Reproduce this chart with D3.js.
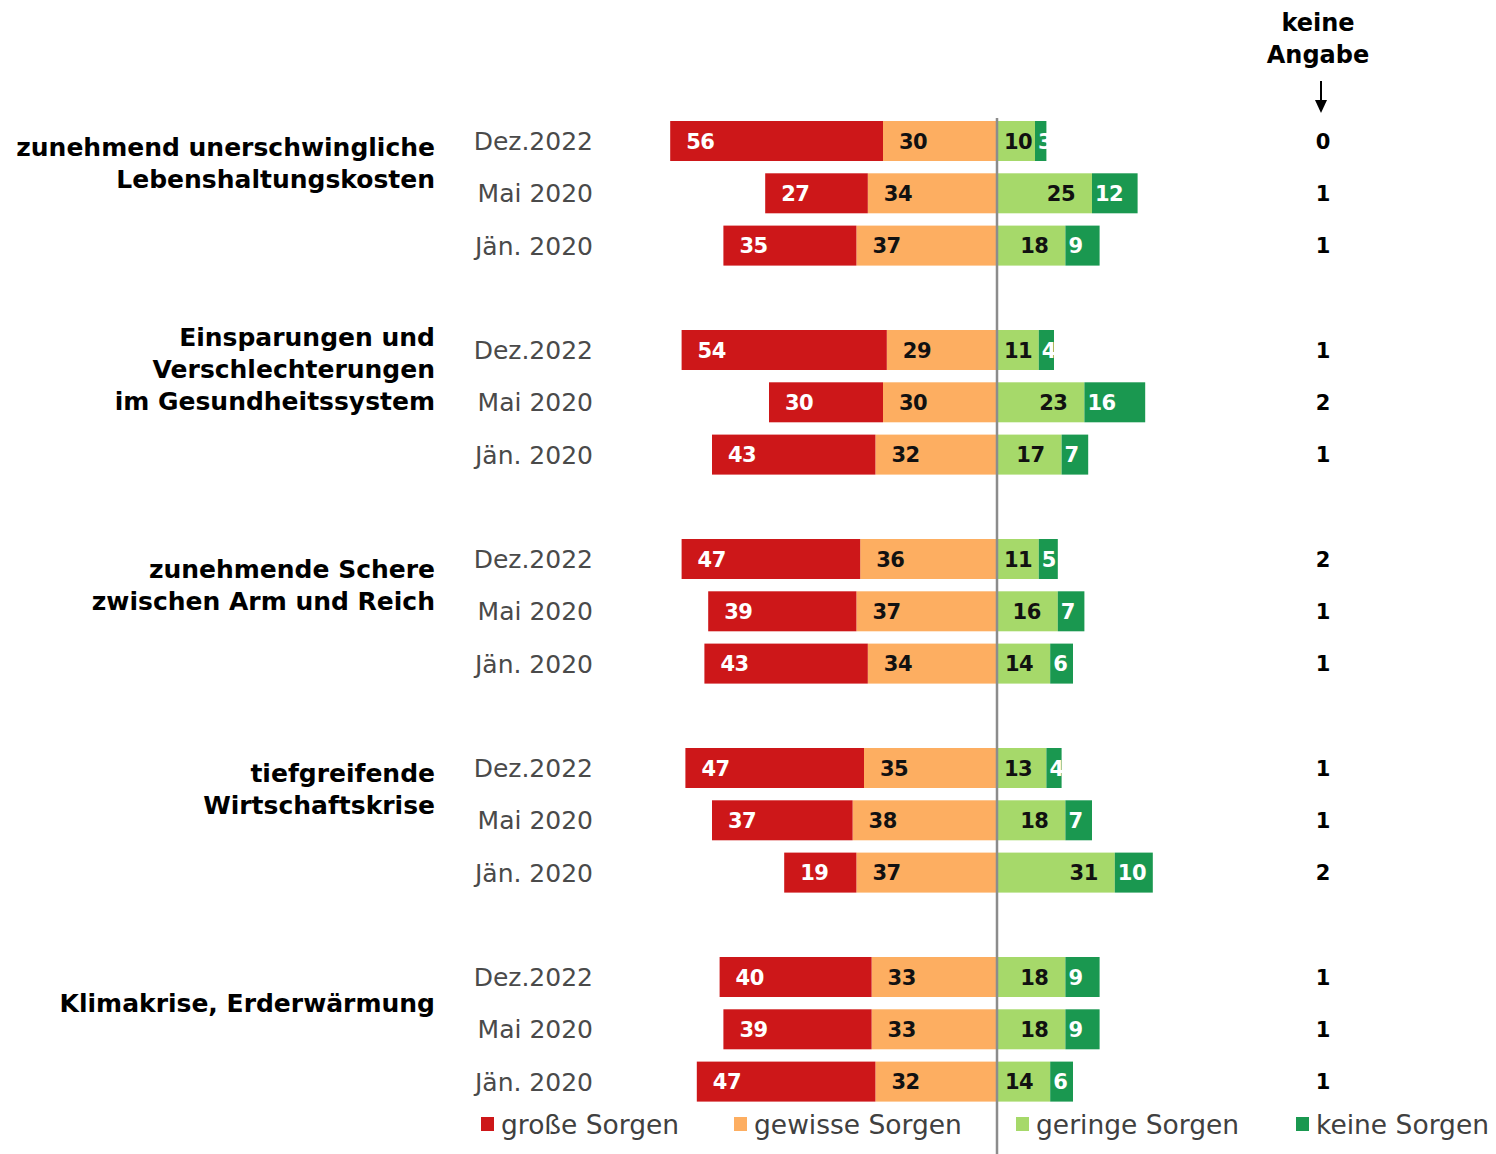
<!DOCTYPE html>
<html>
<head>
<meta charset="utf-8">
<script src="https://cdn.jsdelivr.net/npm/d3@7"></script>
<style>
  body { margin: 0; background: #fff; }
  svg { display: block; }
</style>
</head>
<body>
<script>
// themes, survey waves and shares (in %)
const themes = [
  ['zunehmend unerschwingliche', 'Lebenshaltungskosten'],
  ['Einsparungen und', 'Verschlechterungen', 'im Gesundheitssystem'],
  ['zunehmende Schere', 'zwischen Arm und Reich'],
  ['tiefgreifende', 'Wirtschaftskrise'],
  ['Klimakrise, Erderwärmung']
]
const waves = ['Dez.2022', 'Mai 2020', 'Jän. 2020']

const grosse  = [56, 27, 35, 54, 30, 43, 47, 39, 43, 47, 37, 19, 40, 39, 47]
const gewisse = [30, 34, 37, 29, 30, 32, 36, 37, 34, 35, 38, 37, 33, 33, 32]
const geringe = [10, 25, 18, 11, 23, 17, 11, 16, 14, 13, 18, 31, 18, 18, 14]
const keine   = [ 3, 12,  9,  4, 16,  7,  5,  7,  6,  4,  7, 10,  9,  9,  6]
const keineAngabe = [0, 1, 1, 1, 2, 1, 2, 1, 1, 1, 1, 2, 1, 1, 1]

const legendLabels = ['große Sorgen', 'gewisse Sorgen', 'geringe Sorgen', 'keine Sorgen']

const W = 1496, H = 1154
const zeroX = 997
const pxPerPoint = 3.8
const rowStep = 52.3
const groupStep = 209
const firstRow = 141
const barH = 40

const colors = {
  grosse: '#cd1719',
  gewisse: '#fdae61',
  geringe: '#a6d96a',
  keine: '#1a9850'
}
const textColors = { grosse: '#fff', gewisse: '#111', geringe: '#111', keine: '#fff' }

const rows = grosse.map((d, i) => ({
  i,
  group: Math.floor(i / 3),
  wave: waves[i % 3],
  grosse: -d,
  gewisse: -gewisse[i],
  geringe: geringe[i],
  keine: keine[i],
  ka: keineAngabe[i]
}))

const x = d3.scaleLinear().domain([0, 100]).range([zeroX, zeroX + 100 * pxPerPoint])
const y = i => firstRow + Math.floor(i / 3) * groupStep + (i % 3) * rowStep

// diverging stack: gewisse next to zero, große further left
const stack = d3.stack()
  .keys(['gewisse', 'grosse', 'geringe', 'keine'])
  .offset(d3.stackOffsetDiverging)
const series = stack(rows)

const svg = d3.select('body').append('svg')
  .attr('width', W)
  .attr('height', H)

const boldFont = '"DejaVu Sans", sans-serif'

// bars
const layers = svg.append('g').attr('class', 'bars')
  .selectAll('g')
  .data(series)
  .join('g')
  .attr('fill', s => colors[s.key])

layers.selectAll('rect')
  .data(s => s.map(d => ({ key: s.key, d0: d[0], d1: d[1], i: d.data.i })))
  .join('rect')
  .attr('x', d => x(Math.min(d.d0, d.d1)))
  .attr('y', d => y(d.i) - barH / 2)
  .attr('width', d => Math.abs(x(d.d1) - x(d.d0)))
  .attr('height', barH)

// value labels
const segs = series.flatMap(s => s.map(d => ({
  key: s.key, lo: Math.min(d[0], d[1]), hi: Math.max(d[0], d[1]), i: d.data.i, v: Math.abs(d.data[s.key])
})))

svg.append('g').attr('class', 'values')
  .selectAll('text')
  .data(segs)
  .join('text')
  .attr('x', d => {
    if (d.key === 'grosse' || d.key === 'gewisse') return x(d.lo) + 16
    if (d.key === 'keine') return x(d.lo) + 3
    return Math.max(x(d.hi) - 17, x(d.lo) + 6 + String(d.v).length * 14.6)
  })
  .attr('text-anchor', d => d.key === 'geringe' ? 'end' : 'start')
  .attr('y', d => y(d.i))
  .attr('dy', '0.36em')
  .attr('fill', d => textColors[d.key])
  .style('font-family', boldFont)
  .style('font-weight', 700)
  .style('font-size', '21px')
  .style('letter-spacing', '-0.5px')
  .text(d => d.v)

// zero line
svg.append('line')
  .attr('x1', zeroX).attr('x2', zeroX)
  .attr('y1', 118).attr('y2', H)
  .attr('stroke', '#8c8c8c')
  .attr('stroke-width', 2.5)

// wave labels
svg.append('g').attr('class', 'waves')
  .selectAll('text')
  .data(rows)
  .join('text')
  .attr('x', 593)
  .attr('y', d => y(d.i))
  .attr('dy', '0.36em')
  .attr('text-anchor', 'end')
  .attr('fill', '#4a4a4a')
  .style('font-family', '"DejaVu Sans", sans-serif')
  .style('font-size', '25px')
  .text(d => d.wave)

// theme labels
const lineH = 32
const themeOffset = [-30, -33, -26, -31, -26]
svg.append('g').attr('class', 'themes')
  .selectAll('text')
  .data(themes)
  .join('text')
  .attr('text-anchor', 'end')
  .attr('fill', '#000')
  .style('font-family', boldFont)
  .style('font-weight', 700)
  .style('font-size', '25px')
  .each(function(lines, g) {
    const mid = y(g * 3 + 1) + themeOffset[g]
    const top = mid - (lines.length - 1) * lineH / 2
    d3.select(this).selectAll('tspan')
      .data(lines)
      .join('tspan')
      .attr('x', 435)
      .attr('y', (l, k) => top + k * lineH)
      .attr('dy', '0.36em')
      .text(l => l)
  })

// keine Angabe column
const kaX = 1320
svg.append('text')
  .attr('text-anchor', 'middle')
  .style('font-family', boldFont)
  .style('font-weight', 700)
  .style('font-size', '24px')
  .selectAll('tspan')
  .data(['keine', 'Angabe'])
  .join('tspan')
  .attr('x', kaX - 2)
  .attr('y', (d, k) => 31 + k * 32)
  .text(d => d)

svg.append('line')
  .attr('x1', kaX + 1).attr('x2', kaX + 1)
  .attr('y1', 81).attr('y2', 102)
  .attr('stroke', '#000').attr('stroke-width', 2)
svg.append('path')
  .attr('d', `M${kaX + 1 - 6},100 L${kaX + 1 + 6},100 L${kaX + 1},113 Z`)
  .attr('fill', '#000')

svg.append('g').attr('class', 'ka')
  .selectAll('text')
  .data(rows)
  .join('text')
  .attr('x', kaX + 3)
  .attr('y', d => y(d.i))
  .attr('dy', '0.36em')
  .attr('text-anchor', 'middle')
  .style('font-family', boldFont)
  .style('font-weight', 700)
  .style('font-size', '21px')
  .text(d => d.ka)

// legend
const legendX = [481, 734, 1016, 1296]
const legendKeys = ['grosse', 'gewisse', 'geringe', 'keine']
const leg = svg.append('g').attr('class', 'legend')
  .selectAll('g')
  .data(legendKeys)
  .join('g')
  .attr('transform', (d, k) => `translate(${legendX[k]}, 1124)`)

leg.append('rect')
  .attr('x', 0).attr('y', -7)
  .attr('width', 13).attr('height', 14)
  .attr('fill', d => colors[d])

leg.append('text')
  .attr('x', 20)
  .attr('y', 0)
  .attr('dy', '0.36em')
  .attr('fill', '#404040')
  .style('font-family', '"DejaVu Sans", sans-serif')
  .style('font-size', '26.5px')
  .text((d, k) => legendLabels[k])
</script>
</body>
</html>
